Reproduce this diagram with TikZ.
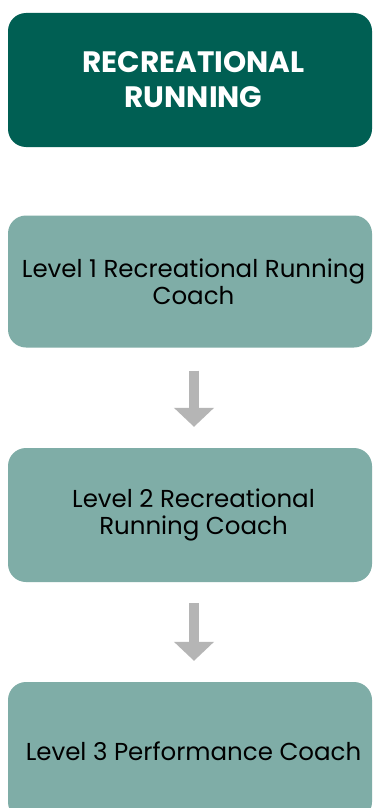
\documentclass[tikz,border=0pt]{standalone}
\usepackage{fontspec}
\setmainfont{Poppins}
\usetikzlibrary{arrows.meta}
\definecolor{darkgreen}{HTML}{005F53}
\definecolor{lightteal}{HTML}{7FADA7}
\definecolor{arrowgray}{HTML}{B5B5B5}
\tikzset{
  stagebox/.style={rounded corners=18pt, inner sep=0pt, minimum width=364pt, align=center},
  headbox/.style={stagebox, fill=darkgreen, text=white, font=\bfseries\fontsize{29.5}{35}\selectfont},
  levelbox/.style={stagebox, fill=lightteal, text=black, font=\fontsize{24.5}{27}\selectfont},
  flowarrow/.style={draw=arrowgray, line width=10pt, -{Triangle[width=39pt,length=19pt]}, arrowgray}
}
\newcommand{\sh}{\hspace*{7pt}}
\begin{document}
\begin{tikzpicture}[x=1pt,y=-1pt]
\useasboundingbox (0,0) rectangle (373,808);
\fill[white] (0,0) rectangle (373,808);
\node[headbox, minimum height=134pt] (top) at (190,80) {\sh RECREATIONAL\\\sh RUNNING};
\node[levelbox, minimum height=132pt] (l1) at (190,281.5) {\sh Level 1 Recreational Running\\\sh Coach};
\node[levelbox, minimum height=134pt] (l2) at (190,515) {\sh Level 2 Recreational\\\sh Running Coach};
\node[levelbox, minimum height=138pt] (l3) at (190,751) {\sh Level 3 Performance Coach};
\draw[flowarrow] ([xshift=4pt,yshift=-23pt]l1.south) -- ([xshift=4pt,yshift=21pt]l2.north);
\draw[flowarrow] ([xshift=4pt,yshift=-21pt]l2.south) -- ([xshift=4pt,yshift=21pt]l3.north);
\end{tikzpicture}
\end{document}
